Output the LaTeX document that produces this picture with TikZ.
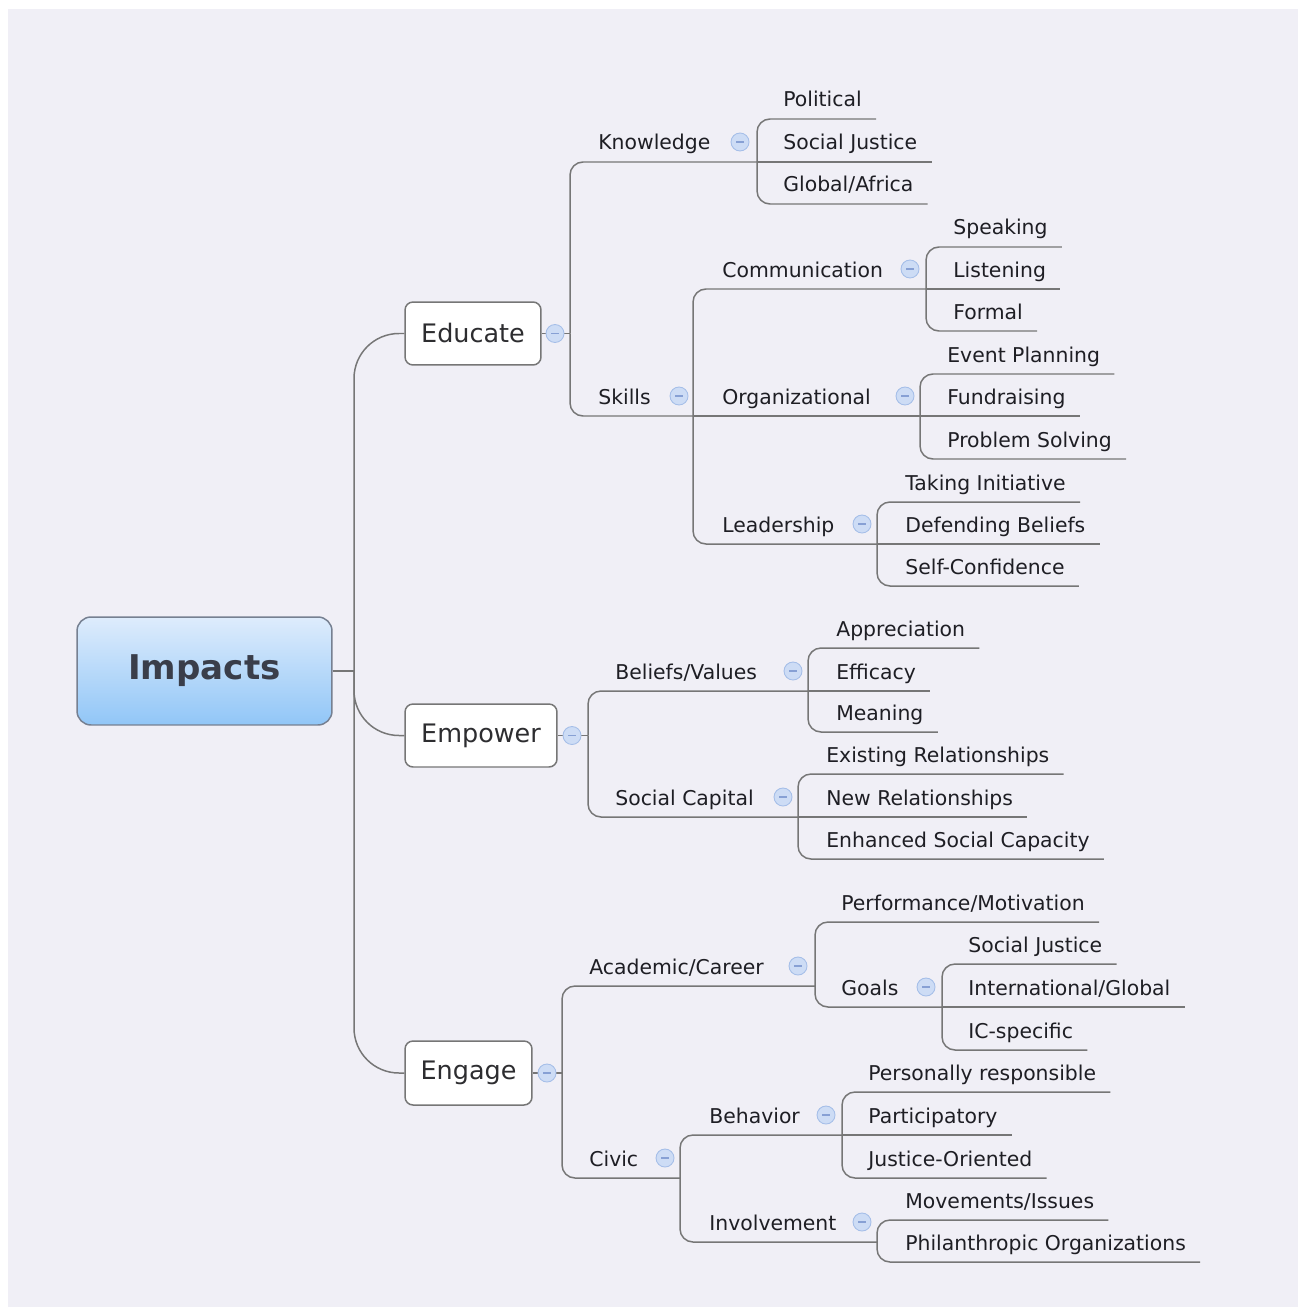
\documentclass[tikz,border=0pt]{standalone}
\usepackage{fontspec}
\setmainfont{DejaVu Sans}
\usetikzlibrary{calc}
\definecolor{bg}{RGB}{240,239,246}
\definecolor{ln}{RGB}{118,118,118}
\definecolor{tx}{RGB}{30,30,36}
\definecolor{ttx}{RGB}{45,45,48}
\definecolor{cfill}{RGB}{205,220,245}
\definecolor{cdraw}{RGB}{165,190,232}
\definecolor{cminus}{RGB}{135,160,212}
\definecolor{rtop}{RGB}{222,236,252}
\definecolor{rbot}{RGB}{145,198,247}
\definecolor{rborder}{RGB}{118,128,145}
\definecolor{rtext}{RGB}{58,62,74}
\tikzset{
  conn/.style={draw=ln, line width=0.85pt},
  leaf/.style={anchor=base west, inner sep=0pt, text=tx, font=\fontsize{11.6}{14}\selectfont},
  topic/.style={draw=ln, line width=0.85pt, fill=white, rounded corners=0.16cm, text=ttx, font=\fontsize{14.5}{17}\selectfont, inner sep=0pt},
  rootbox/.style={draw=rborder, line width=0.85pt, rounded corners=0.28cm, top color=rtop, bottom color=rbot, text=rtext, font=\fontsize{19.4}{23}\selectfont\bfseries, inner sep=0pt},
  tog/.style={circle, minimum size=0.36cm, inner sep=0pt, fill=cfill, draw=cdraw, line width=0.5pt,
    path picture={\draw[cminus, line width=0.7pt] ([xshift=-0.08cm]path picture bounding box.center) -- ([xshift=0.08cm]path picture bounding box.center);}},
  smallcurve/.style={conn, rounded corners=0.26cm},
  bigcurve/.style={conn, rounded corners=0.9cm}
}
% leaf: name, text left x, underline y, text
\newcommand\lf[4]{\node[leaf] (#1) at (#2,#3-12) {#4};
  \coordinate (#1e) at ($(#1.base east)+(14,12)$);}
% sub-topic: name, text left x, underline y, text, hub x, toggle x
\newcommand\sub[6]{\lf{#1}{#2}{#3}{#4}
  \coordinate (#1h) at (#5,#3);
  \node[tog] (#1c) at (#6,#3-20) {};}
% branch from hub to a leaf / to a sub-topic / straight middle leaf
\newcommand\brl[2]{\draw[smallcurve] (#1) |- (#2e);}
\newcommand\brs[2]{\draw[smallcurve] (#1) |- (#2h);}
\newcommand\brm[2]{\draw[conn] (#1) -- (#2e);}
\begin{document}
\begin{tikzpicture}[x=0.02cm, y=-0.02cm]
\useasboundingbox (0,0) rectangle (1298,1307);
\fill[white] (0,0) rectangle (1298,1307);
\fill[bg] (8,9) rectangle (1298,1307);

% main nodes
\node[rootbox, minimum width=5.1cm, minimum height=2.16cm] (root) at (204.5,671) {Impacts};
\node[topic, minimum width=2.72cm, minimum height=1.26cm] (edu) at (473,333.5) {Educate};
\node[topic, minimum width=3.04cm, minimum height=1.26cm] (emp) at (481,735.5) {Empower};
\node[topic, minimum width=2.54cm, minimum height=1.28cm] (eng) at (468.5,1073) {Engage};

\coordinate (hub) at (354,671);
\draw[conn] (root.east) -- (hub);
\draw[bigcurve] (hub) |- (edu.west);
\draw[bigcurve] (hub) |- (emp.west);
\draw[bigcurve] (hub) |- (eng.west);

% ---------- Educate ----------
\coordinate (eduh) at (570,333.5);
\draw[conn] (edu.east) -- (eduh);
\sub{kn}{598}{162}{Knowledge}{757}{740}
\sub{sk}{598}{416}{Skills}{693}{679}
\brs{eduh}{kn}
\brs{eduh}{sk}

\lf{pol}{783}{119}{Political}
\lf{sja}{783}{162}{Social Justice}
\lf{gaf}{783}{204}{Global/Africa}
\brl{knh}{pol}
\brm{knh}{sja}
\brl{knh}{gaf}

\sub{com}{722}{289}{Communication}{926}{910}
\sub{org}{722}{416}{Organizational}{920}{905}
\sub{lea}{722}{544}{Leadership}{877}{862}
\brs{skh}{com}
\draw[conn] (skh) -- (orgh);
\brs{skh}{lea}

\lf{spk}{953}{247}{Speaking}
\lf{lis}{953}{289}{Listening}
\lf{frm}{953}{331}{Formal}
\brl{comh}{spk}
\brm{comh}{lis}
\brl{comh}{frm}

\lf{evp}{947}{374}{Event Planning}
\lf{fun}{947}{416}{Fundraising}
\lf{pro}{947}{459}{Problem Solving}
\brl{orgh}{evp}
\brm{orgh}{fun}
\brl{orgh}{pro}

\lf{tak}{905}{502}{Taking Initiative}
\lf{def}{905}{544}{Defending Beliefs}
\lf{sel}{905}{586}{Self-Confidence}
\brl{leah}{tak}
\brm{leah}{def}
\brl{leah}{sel}

% ---------- Empower ----------
\coordinate (emph) at (588,735.5);
\draw[conn] (emp.east) -- (emph);
\sub{bv}{615}{691}{Beliefs/Values}{808}{793}
\sub{sc}{615}{817}{Social Capital}{798}{783}
\brs{emph}{bv}
\brs{emph}{sc}

\lf{app}{836}{648}{Appreciation}
\lf{eff}{836}{691}{Efficacy}
\lf{mea}{836}{732}{Meaning}
\brl{bvh}{app}
\brm{bvh}{eff}
\brl{bvh}{mea}

\lf{exr}{826}{774}{Existing Relationships}
\lf{nwr}{826}{817}{New Relationships}
\lf{esc}{826}{859}{Enhanced Social Capacity}
\brl{sch}{exr}
\brm{sch}{nwr}
\brl{sch}{esc}

% ---------- Engage ----------
\coordinate (engh) at (562,1073);
\draw[conn] (eng.east) -- (engh);
\sub{ac}{589}{986}{Academic/Career}{815}{798}
\sub{civ}{589}{1178}{Civic}{680}{665}
\brs{engh}{ac}
\brs{engh}{civ}

\lf{pm}{841}{922}{Performance/Motivation}
\sub{go}{841}{1007}{Goals}{942}{926}
\brl{ach}{pm}
\brs{ach}{go}

\lf{sjb}{968}{964}{Social Justice}
\lf{ig}{968}{1007}{International/Global}
\lf{ics}{968}{1050}{IC-specific}
\brl{goh}{sjb}
\brm{goh}{ig}
\brl{goh}{ics}

\sub{beh}{709}{1135}{Behavior}{842}{826}
\sub{inv}{709}{1242}{Involvement}{877}{862}
\brs{civh}{beh}
\brs{civh}{inv}

\lf{per}{868}{1092}{Personally responsible}
\lf{par}{868}{1135}{Participatory}
\lf{jus}{868}{1178}{Justice-Oriented}
\brl{behh}{per}
\brm{behh}{par}
\brl{behh}{jus}

\lf{mov}{905}{1220}{Movements/Issues}
\lf{phi}{905}{1262}{Philanthropic Organizations}
\brl{invh}{mov}
\brl{invh}{phi}

% toggles on the main-topic lines
\node[tog] (educ) at (555,333.5) {};
\node[tog] (empc) at (572,735.5) {};
\node[tog] (engc) at (547,1073) {};
\end{tikzpicture}
\end{document}
